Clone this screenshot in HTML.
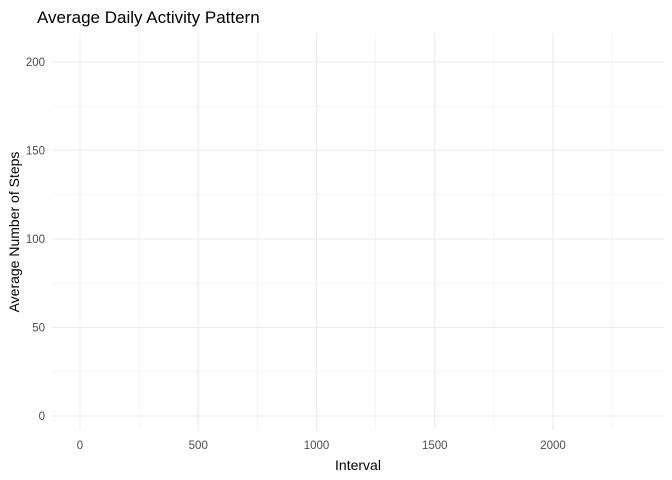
<!DOCTYPE html>
<html><head><meta charset="utf-8"><style>
html,body{margin:0;padding:0;background:#fff;}
svg{display:block;font-family:"Liberation Sans",sans-serif;}
</style></head><body>
<svg id="chart" width="672" height="480">
<text x="37" y="23" font-size="17" fill="#000">Average Daily Activity Pattern</text>
<text x="358" y="470" font-size="14" text-anchor="middle" fill="#000">Interval</text>
<text transform="translate(19,232) rotate(-90)" font-size="14" text-anchor="middle" fill="#000">Average Number of Steps</text>
<g id="grid"></g><g id="labels"></g><g id="series"></g>
</svg>
<script>
const xTicks=[0,500,1000,1500,2000];
const xMinor=[250,750,1250,1750,2250];
const yTicks=[0,50,100,150,200];
const yMinor=[25,75,125,175];
const intervals=[];
const avgSteps=[];
const ns="http://www.w3.org/2000/svg";
const L=52,R=664,T=33,B=430;
function xs(v){return 80+v*(553-80)/2000;}
function ys(v){return 416-v*(416-62)/200;}
const grid=document.getElementById('grid'),labels=document.getElementById('labels');
function line(x1,y1,x2,y2,w,name){const l=document.createElementNS(ns,'line');
l.setAttribute('x1',x1);l.setAttribute('y1',y1);l.setAttribute('x2',x2);l.setAttribute('y2',y2);
l.setAttribute('stroke','#ebebeb');l.setAttribute('stroke-width',w);


grid.appendChild(l);}
yMinor.forEach(v=>line(L,ys(v),R,ys(v),0.6,'y-minor-gridline'));
xMinor.forEach(v=>line(xs(v),T,xs(v),B,0.6,'x-minor-gridline'));
yTicks.forEach(v=>line(L,ys(v),R,ys(v),1.1,'y-major-gridline'));
xTicks.forEach(v=>line(xs(v),T,xs(v),B,1.1,'x-major-gridline'));
function txt(x,y,s,anchor,name){const t=document.createElementNS(ns,'text');
t.setAttribute('x',x);t.setAttribute('y',y);t.setAttribute('font-size','11.5');t.setAttribute('fill','#4d4d4d');
t.setAttribute('text-anchor',anchor);t.textContent=s;


labels.appendChild(t);}
yTicks.forEach(v=>txt(45,ys(v)+4,String(v),'end','y-tick-label'));
xTicks.forEach(v=>txt(xs(v),449,String(v),'middle','x-tick-label'));
if(intervals.length){const p=document.createElementNS(ns,'path');
p.setAttribute('d',intervals.map((v,i)=>(i?'L':'M')+xs(v)+','+ys(avgSteps[i])).join(''));
p.setAttribute('fill','none');p.setAttribute('stroke','#000');


document.getElementById('series').appendChild(p);}
</script>
</body></html>
